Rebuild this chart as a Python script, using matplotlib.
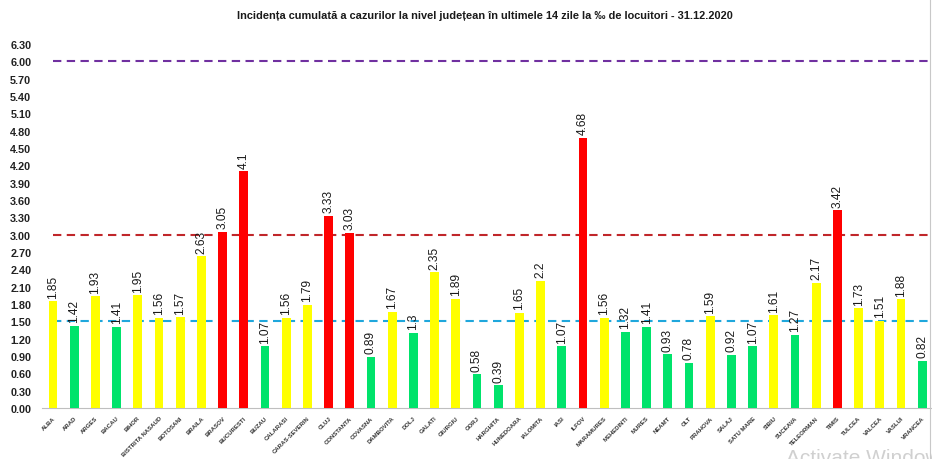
import matplotlib
matplotlib.use("Agg")
import matplotlib.pyplot as plt
from matplotlib.lines import Line2D

counties = ["ALBA", "ARAD", "ARGES", "BACAU", "BIHOR", "BISTRITA NASAUD", "BOTOSANI",
            "BRAILA", "BRASOV", "BUCURESTI", "BUZAU", "CALARASI", "CARAS-SEVERIN", "CLUJ",
            "CONSTANTA", "COVASNA", "DAMBOVITA", "DOLJ", "GALATI", "GIURGIU", "GORJ",
            "HARGHITA", "HUNEDOARA", "IALOMITA", "IASI", "ILFOV", "MARAMURES", "MEHEDINTI",
            "MURES", "NEAMT", "OLT", "PRAHOVA", "SALAJ", "SATU MARE", "SIBIU", "SUCEAVA",
            "TELEORMAN", "TIMIS", "TULCEA", "VALCEA", "VASLUI", "VRANCEA"]
values = [1.85, 1.42, 1.93, 1.41, 1.95, 1.56, 1.57, 2.63, 3.05, 4.1, 1.07, 1.56, 1.79, 3.33,
          3.03, 0.89, 1.67, 1.3, 2.35, 1.89, 0.58, 0.39, 1.65, 2.2, 1.07, 4.68, 1.56, 1.32,
          1.41, 0.93, 0.78, 1.59, 0.92, 1.07, 1.61, 1.27, 2.17, 3.42, 1.73, 1.51, 1.88, 0.82]
labels = ["1.85", "1.42", "1.93", "1.41", "1.95", "1.56", "1.57", "2.63", "3.05", "4.1",
          "1.07", "1.56", "1.79", "3.33", "3.03", "0.89", "1.67", "1.3", "2.35", "1.89",
          "0.58", "0.39", "1.65", "2.2", "1.07", "4.68", "1.56", "1.32", "1.41", "0.93",
          "0.78", "1.59", "0.92", "1.07", "1.61", "1.27", "2.17", "3.42", "1.73", "1.51",
          "1.88", "0.82"]
thresholds = [1.5, 3.0, 6.0]
threshold_colors = ["#1FA7DC", "#C0262A", "#7030A0"]
yticks = [round(0.3 * i, 2) for i in range(22)]

GREEN = "#00E36B"
YELLOW = "#FFFF00"
RED = "#FF0000"

def color_for(v):
    if v < 1.5:
        return GREEN
    if v <= 3.0:
        return YELLOW
    return RED

plt.rcParams['font.family'] = ['Liberation Sans', 'DejaVu Sans']

fig = plt.figure(figsize=(9.32, 4.6), dpi=100)
ax = fig.add_axes([42.4 / 932, 51 / 460, 890.4 / 932, 364 / 460])

x = list(range(len(counties)))
ax.bar(x, values, width=0.42, color=[color_for(v) for v in values], zorder=3)

for xi, v, lab in zip(x, values, labels):
    ax.text(xi, v + 0.06, lab, rotation=90, ha='center', va='bottom',
            fontsize=8.6, color='#1a1a1a', zorder=4)

for t, c in zip(thresholds, threshold_colors):
    ax.plot([0, 41.27], [t, t], color=c, lw=1.5, linestyle=(0, (4, 2.6)), zorder=2)

ax.set_xlim(-0.5, 41.5)
ax.set_ylim(0, 6.3)
ax.set_yticks(yticks)
ax.set_yticklabels([f"{t:.2f}" for t in yticks], fontsize=7.8, fontweight='bold', color='#222222')
ax.set_xticks(x)
ax.set_xticklabels(counties, rotation=45, ha='right', rotation_mode='anchor',
                   fontsize=4.3, fontweight='bold', color='#333333')
ax.tick_params(axis='y', length=0, pad=8)
ax.tick_params(axis='x', length=0, pad=5)
for s in ['top', 'right', 'left']:
    ax.spines[s].set_visible(False)
ax.spines['bottom'].set_color('#bfbfbf')
ax.spines['bottom'].set_linewidth(0.8)

fig.text(485 / 932, 1 - 16 / 460,
         "Incidența cumulată a cazurilor la nivel județean în ultimele 14 zile la ‰ de locuitori - 31.12.2020",
         ha='center', va='center', fontsize=7.9, fontweight='bold', color='#1a1a1a')

# right chart border
fig.add_artist(Line2D([929.5 / 932, 929.5 / 932], [0, 1], transform=fig.transFigure,
                      color='#c8c8c8', lw=0.8))

fig.text(786 / 932, -8 / 460, "Activate Windows", fontsize=15, color='#d0d0d0',
         ha='left', va='bottom')

fig.savefig("out.png", dpi=100)
